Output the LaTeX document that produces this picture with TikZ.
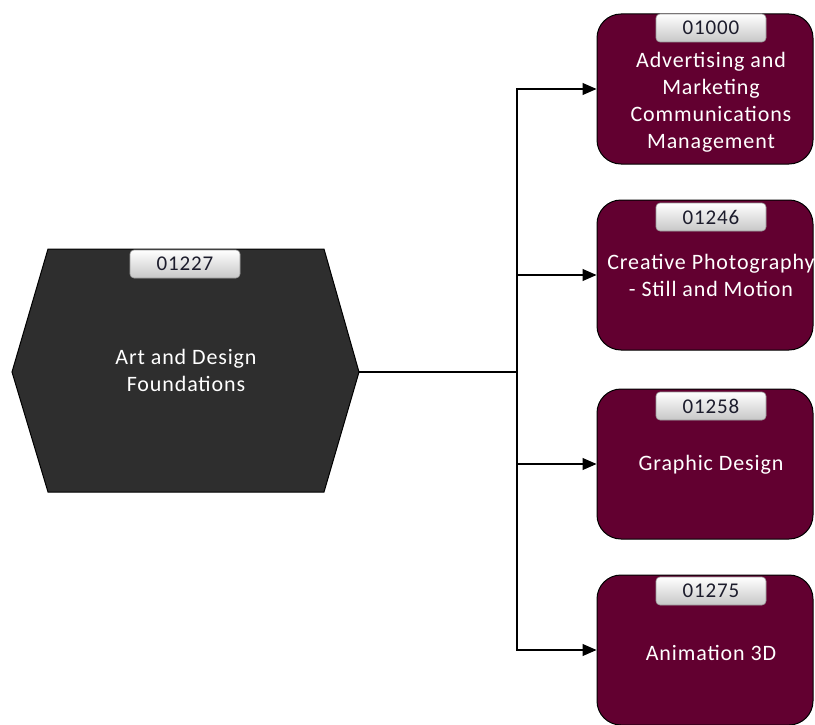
\documentclass[tikz,border=0pt]{standalone}
\usepackage{fontspec}
\newfontfamily\lbl[LetterSpace=4]{Carlito}
\usetikzlibrary{arrows.meta}
\definecolor{maroon}{HTML}{620030}
\definecolor{hexfill}{HTML}{2E2E2E}
\definecolor{tabedge}{HTML}{9A9A9A}
\definecolor{tabtext}{HTML}{1C1C2C}
\tikzset{
  prog/.style={draw=black, line width=1pt, fill=maroon, rounded corners=24pt,
    minimum width=216pt, minimum height=150pt, inner sep=0pt},
  tab/.style={draw=tabedge, line width=0.6pt, rounded corners=4pt, top color=white,
    bottom color=black!22, minimum width=110pt, minimum height=28pt, inner sep=0pt,
    font=\lbl\fontsize{21}{24}\selectfont, text=tabtext},
  lbltext/.style={text=white, align=center, inner sep=0pt,
    font=\lbl\fontsize{22}{27}\selectfont},
  conn/.style={draw=black, line width=1.1pt},
  arr/.style={conn, -{Triangle[length=14pt, width=12pt]}}
}
\begin{document}
\begin{tikzpicture}[x=1pt, y=-1pt]
\useasboundingbox (0,0) rectangle (815,725);
% source hexagon
\coordinate (hL) at (12,372);
\coordinate (hR) at (359,372);
\filldraw[fill=hexfill, draw=black, line width=1pt]
  (48,249) -- (324,249) -- (hR) -- (324,492) -- (48,492) -- (hL) -- cycle;
\node[tab] (t0) at (185,264) {01227};
\node[lbltext] (src) at (186,370) {Art and Design\\Foundations};
% target boxes
\node[prog] (b1) at (705,89) {};
\node[prog] (b2) at (705,275) {};
\node[prog] (b3) at (705,464) {};
\node[prog] (b4) at (705,650) {};
\node[tab] (t1) at (711,28) {01000};
\node[tab] (t2) at (711,217) {01246};
\node[tab] (t3) at (711,406) {01258};
\node[tab] (t4) at (711,591) {01275};
\node[lbltext] (l1) at (711,102) {Advertising and\\Marketing\\Communications\\Management};
\node[lbltext] (l2) at (711,275) {Creative Photography\\- Still and Motion};
\node[lbltext] (l3) at (711,465) {Graphic Design};
\node[lbltext] (l4) at (711,653) {Animation 3D};
% connectors
\coordinate (j) at (517,372);
\draw[conn] (hR) -- (j);
\draw[arr] (j) |- (b1.west);
\draw[arr] (j) |- (b2.west);
\draw[arr] (j) |- (b3.west);
\draw[arr] (j) |- (b4.west);
\end{tikzpicture}
\end{document}
